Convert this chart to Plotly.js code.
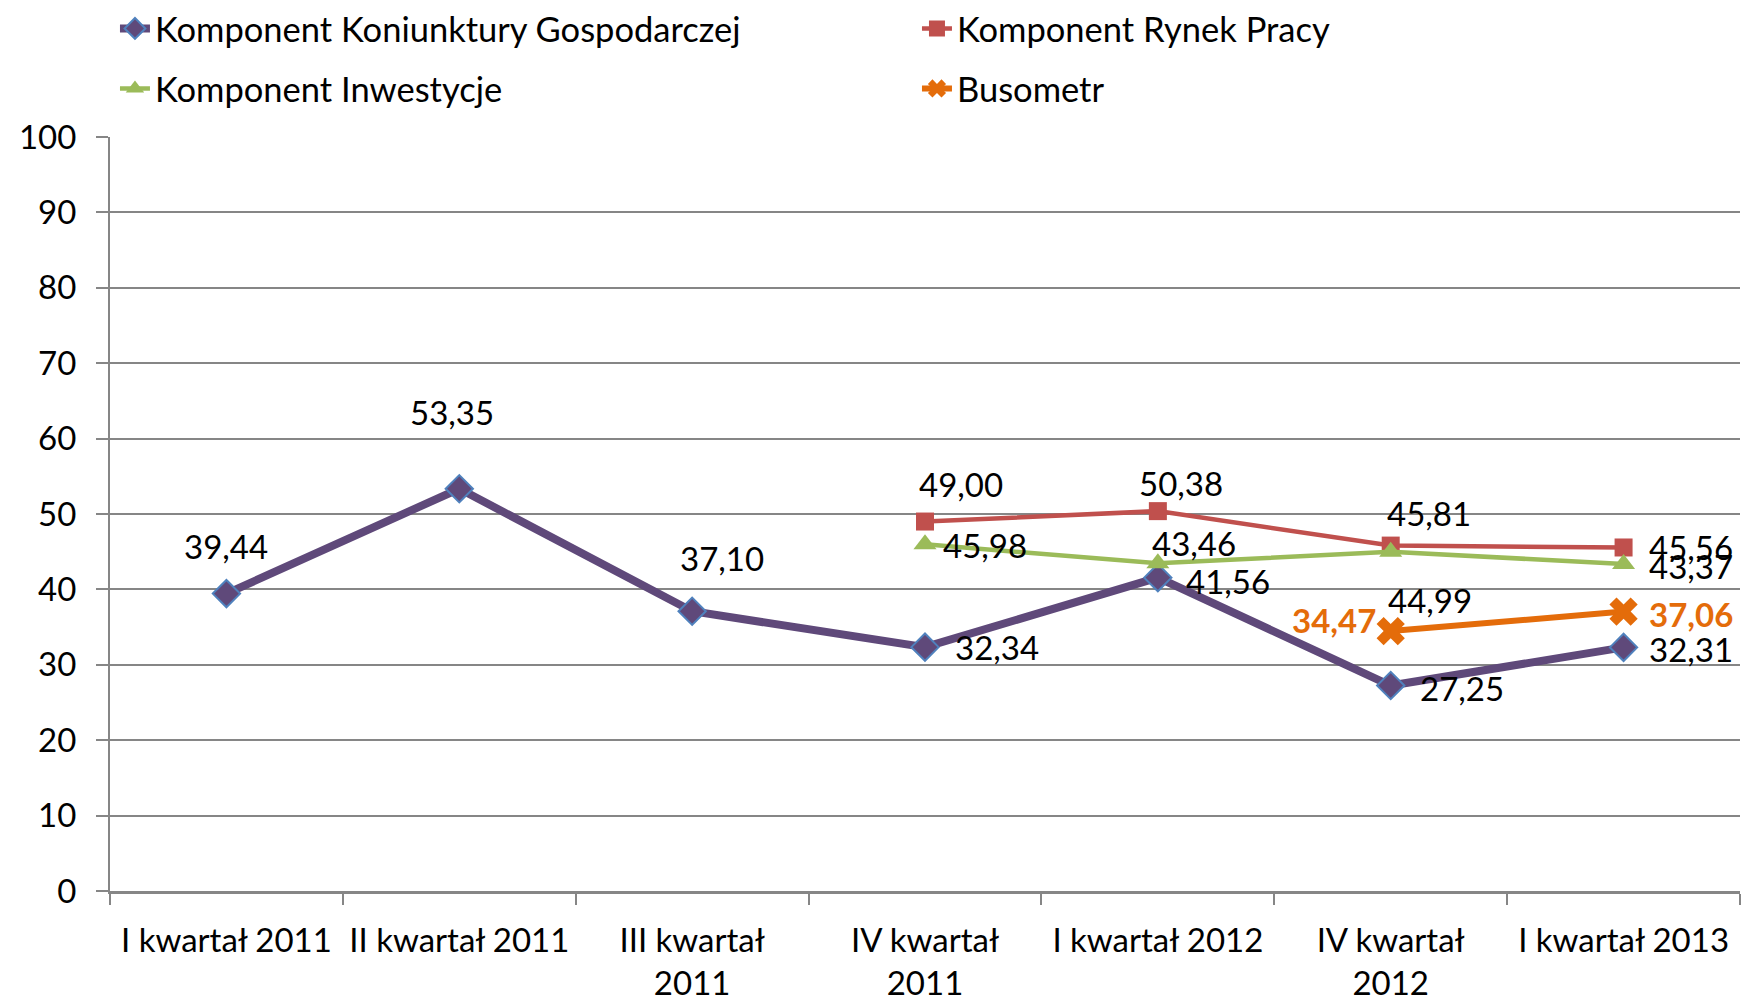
<!DOCTYPE html>
<html>
<head>
<meta charset="utf-8">
<script src="https://cdn.plot.ly/plotly-3.0.1.min.js"></script>
<style>html,body{margin:0;padding:0;background:#fff;}#chart{width:1742px;height:1000px;}</style>
</head>
<body>
<div id="chart"></div>
<script>
// ---- data ----
const categories = ["I kwartał 2011", "II kwartał 2011", "III kwartał 2011", "IV kwartał 2011", "I kwartał 2012", "IV kwartał 2012", "I kwartał 2013"];
const tickLabels = ["I kwartał 2011", "II kwartał 2011", "III kwartał<br>2011", "IV kwartał<br>2011", "I kwartał 2012", "IV kwartał<br>2012", "I kwartał 2013"];
const seriesNames = ["Komponent Koniunktury Gospodarczej", "Komponent Rynek Pracy", "Komponent Inwestycje", "Busometr"];
const koniunkturaValues = [39.44, 53.35, 37.10, 32.34, 41.56, 27.25, 32.31];
const rynekPracyValues = [null, null, null, 49.00, 50.38, 45.81, 45.56];
const inwestycjeValues = [null, null, null, 45.98, 43.46, 44.99, 43.37];
const busometrValues = [null, null, null, null, null, 34.47, 37.06];
const yTickValues = [0, 10, 20, 30, 40, 50, 60, 70, 80, 90, 100];

// ---- styles / label offsets (pixels) ----
const FONT = "Lato, 'Open Sans', sans-serif";
const FS = 33;
const colors = ["#5F497A", "#C0504D", "#9BBB59", "#E46C0A"];
const labelShifts = [
  [[0, 48], [-7, 77], [30, 53], [72, 0], [70, -3], [71, -2], [67, -2]],
  [null, null, null, [36, 38], [23, 28], [38, 33], [67, 0]],
  [null, null, null, [60, -1], [36, 20], [39, -48], [67, -2]],
  [null, null, null, null, null, [-57, 11], [67, -2]]
];
const labelFonts = [
  {family: FONT, size: FS, color: "#000"},
  {family: FONT, size: FS, color: "#000"},
  {family: FONT, size: FS, color: "#000"},
  {family: FONT, size: FS, color: colors[3], weight: "bold"}
];

const allValues = [koniunkturaValues, rynekPracyValues, inwestycjeValues, busometrValues];

const traces = [
  {
    x: categories, y: koniunkturaValues, name: seriesNames[0], type: "scatter", mode: "lines+markers",
    line: {color: colors[0], width: 8}, legend: "legend",
    marker: {symbol: "diamond", size: 21, color: colors[0], line: {color: "#4F81BD", width: 2}},
    cliponaxis: false, hoverinfo: "y"
  },
  {
    x: categories, y: rynekPracyValues, name: seriesNames[1], type: "scatter", mode: "lines+markers",
    line: {color: colors[1], width: 4.5}, legend: "legend",
    marker: {symbol: "square", size: 18, color: colors[1]},
    cliponaxis: false, hoverinfo: "y"
  },
  {
    x: categories, y: inwestycjeValues, name: seriesNames[2], type: "scatter", mode: "lines+markers",
    line: {color: colors[2], width: 4.5}, legend: "legend2",
    marker: {symbol: "triangle-up", size: 20, color: colors[2]},
    cliponaxis: false, hoverinfo: "y"
  },
  {
    x: categories, y: busometrValues, name: seriesNames[3], type: "scatter", mode: "lines+markers",
    line: {color: colors[3], width: 6}, legend: "legend2",
    marker: {symbol: "x", size: 25, color: colors[3]},
    cliponaxis: false, hoverinfo: "y"
  }
];

const annotations = [];
allValues.forEach((vals, s) => {
  vals.forEach((v, i) => {
    if (v === null) return;
    const sh = labelShifts[s][i];
    annotations.push({
      x: i, y: v, xref: "x", yref: "y",
      text: v.toFixed(2).replace(".", ","),
      showarrow: false, xanchor: "center", yanchor: "middle",
      xshift: sh[0], yshift: sh[1], font: labelFonts[s]
    });
  });
});

const legendBase = {
  orientation: "h", xref: "container", yref: "container",
  xanchor: "left", yanchor: "middle", font: {family: FONT, size: 34.5, color: "#000"},
  bgcolor: "rgba(0,0,0,0)", entrywidth: 757, entrywidthmode: "pixels", itemclick: false
};

const layout = {
  width: 1742, height: 1000,
  margin: {l: 110, r: 2, t: 137, b: 109},
  paper_bgcolor: "#fff", plot_bgcolor: "#fff",
  font: {family: FONT, size: FS, color: "#000"},
  showlegend: true,
  legend: Object.assign({}, legendBase, {x: 0.066, y: 0.9715}),
  legend2: Object.assign({}, legendBase, {x: 0.066, y: 0.9115}),
  xaxis: {
    type: "category", range: [-0.5, 6.5], tickvals: categories, ticktext: tickLabels,
    showline: true, linecolor: "#868686", linewidth: 3,
    ticks: "outside", tickson: "boundaries", ticklen: 11, tickcolor: "#868686", tickwidth: 2,
    showgrid: false, zeroline: false, tickfont: {family: FONT, size: FS, color: "#000"},
    ticklabelstandoff: 18
  },
  yaxis: {
    range: [0, 100], tickvals: yTickValues, showline: true, linecolor: "#868686", linewidth: 2,
    ticks: "outside", ticklen: 12, tickcolor: "#868686", tickwidth: 2,
    showgrid: true, gridcolor: "#868686", gridwidth: 2, zeroline: false,
    tickfont: {family: FONT, size: FS, color: "#000"}, ticklabelstandoff: 13
  },
  annotations: annotations
};

Plotly.newPlot("chart", traces, layout, {displayModeBar: false, staticPlot: true});
</script>
</body>
</html>
